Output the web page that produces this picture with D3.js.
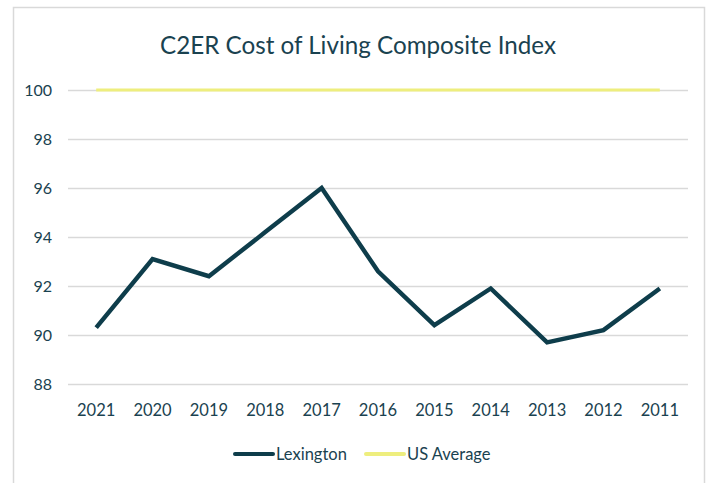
<!DOCTYPE html>
<html><head><meta charset="utf-8">
<script src="https://cdn.jsdelivr.net/npm/d3@7"></script>
<style>body{margin:0;background:#fff}</style>
</head><body>
<svg id="c" width="708" height="483"></svg>
<script>
const years = ["2021","2020","2019","2018","2017","2016","2015","2014","2013","2012","2011"];
const lexington = [90.3, 93.1, 92.4, 94.2, 96.0, 92.6, 90.4, 91.9, 89.7, 90.2, 91.9];
const usAverage = [100,100,100,100,100,100,100,100,100,100,100];
const yTicks = [88, 90, 92, 94, 96, 98, 100];
const seriesNames = ["Lexington", "US Average"];
const colors = ["#0e3d4b", "#eeee7e"];
const font = "Lato,'Open Sans',sans-serif";
const textCol = "#1a4250";

const svg = d3.select("#c");
// frame
svg.append("path").attr("d","M13.5,490 V7.5 H704.5 V490").attr("fill","none").attr("stroke","#d9d9d9").attr("stroke-width",1.5);

const x = d3.scaleBand().domain(years).range([68, 688]).padding(0);
const y = d3.scaleLinear().domain([88, 100]).range([384, 90]);

svg.append("text").attr("x", 358).attr("y", 54).attr("text-anchor","middle")
  .attr("font-family", font).attr("font-size", 25.5).attr("fill", textCol)
  .attr("textLength", 396).attr("lengthAdjust","spacingAndGlyphs")
  .text("C2ER Cost of Living Composite Index");

const yAxis = d3.axisLeft(y).tickValues(yTicks).tickSize(-(688-68)).tickFormat(d3.format("d"));
const gy = svg.append("g").attr("transform","translate(68,0)").call(yAxis);
gy.select(".domain").remove();
gy.selectAll(".tick line").attr("stroke","#d9d9d9").attr("stroke-width",1.3);
gy.selectAll(".tick text").attr("x",-16).attr("font-family",font).attr("font-size",16).attr("fill",textCol);

const xAxis = d3.axisBottom(x).tickSize(0);
const gx = svg.append("g").attr("transform","translate(0,384)").call(xAxis);
gx.select(".domain").remove();
gx.selectAll(".tick text").attr("dy","0").attr("y",32).attr("font-family",font).attr("font-size",16.5).attr("fill",textCol);

const line = d3.line().x((d,i)=>x(years[i])+x.bandwidth()/2).y(d=>y(d));
svg.append("path").datum(usAverage).attr("d",line).attr("fill","none").attr("stroke",colors[1]).attr("stroke-width",3);
svg.append("path").datum(lexington).attr("d",line).attr("fill","none").attr("stroke",colors[0]).attr("stroke-width",4.4).attr("stroke-linejoin","miter");

// legend
const legX = [235, 366];
seriesNames.forEach((n,i)=>{
  svg.append("line").attr("x1",legX[i]).attr("x2",legX[i]+38).attr("y1",454).attr("y2",454)
    .attr("stroke",colors[i]).attr("stroke-width",4).attr("stroke-linecap","round");
  svg.append("text").attr("x",legX[i]+41).attr("y",460).attr("font-family",font).attr("font-size",16.5).attr("fill",textCol).text(n);
});
</script>
</body></html>
